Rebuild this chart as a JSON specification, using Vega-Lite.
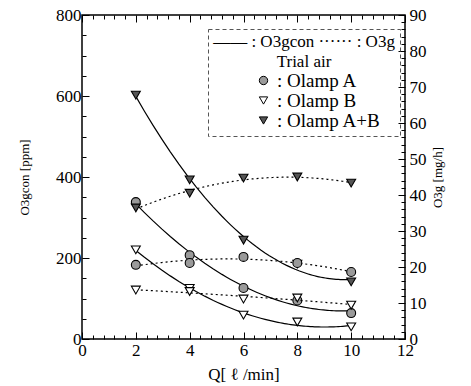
{
  "$schema": "https://vega.github.io/schema/vega-lite/v6.json",
  "width": 323,
  "height": 324,
  "autosize": "none",
  "padding": {"left": 82, "top": 15, "right": 66, "bottom": 47},
  "background": "white",
  "config": {
    "font": "Liberation Serif",
    "view": {"stroke": "black", "strokeWidth": 1.5},
    "axis": {
      "domain": false,
      "grid": false,
      "labelFont": "Liberation Serif",
      "labelFontSize": 17,
      "labelColor": "black",
      "labelOverlap": false,
      "labelFlush": false,
      "tickColor": "black",
      "tickWidth": 1,
      "titleFont": "Liberation Serif",
      "titleFontWeight": "normal",
      "titleColor": "black"
    },
    "legend": {
      "labelFont": "Liberation Serif",
      "titleFont": "Liberation Serif",
      "labelColor": "black",
      "titleColor": "black"
    }
  },
  "data": {
    "values": [
      {"Q": 2, "lamp": "Olamp A", "con": 338, "gen": 20.6},
      {"Q": 4, "lamp": "Olamp A", "con": 207, "gen": 21.1},
      {"Q": 6, "lamp": "Olamp A", "con": 126, "gen": 22.8},
      {"Q": 8, "lamp": "Olamp A", "con": 95, "gen": 21.1},
      {"Q": 10, "lamp": "Olamp A", "con": 64, "gen": 18.6},
      {"Q": 2, "lamp": "Olamp B", "con": 220, "gen": 13.6},
      {"Q": 4, "lamp": "Olamp B", "con": 125, "gen": 13.2},
      {"Q": 6, "lamp": "Olamp B", "con": 59, "gen": 11.1},
      {"Q": 8, "lamp": "Olamp B", "con": 42, "gen": 11.4},
      {"Q": 10, "lamp": "Olamp B", "con": 30, "gen": 9.4},
      {"Q": 2, "lamp": "Olamp A+B", "con": 602, "gen": 36.4},
      {"Q": 4, "lamp": "Olamp A+B", "con": 393, "gen": 40.5},
      {"Q": 6, "lamp": "Olamp A+B", "con": 244, "gen": 44.7},
      {"Q": 8, "lamp": "Olamp A+B", "con": 185, "gen": 45},
      {"Q": 10, "lamp": "Olamp A+B", "con": 141, "gen": 43.3}
    ]
  },
  "layer": [
    {
      "encoding": {
        "x": {
          "field": "Q", "type": "quantitative",
          "scale": {"domain": [0, 12], "nice": false, "zero": false},
          "axis": {
            "orient": "bottom",
            "title": "Q[ ℓ /min]",
            "titleFontSize": 17,
            "titlePadding": 5,
            "labelOverlap": false,
            "labelFlush": false,
            "values": [0,0.4,0.8,1.2,1.6,2,2.4,2.8,3.2,3.6,4,4.4,4.8,5.2,5.6,6,6.4,6.8,7.2,7.6,8,8.4,8.8,9.2,9.6,10,10.4,10.8,11.2,11.6,12],
            "labelExpr": "abs(datum.value/2 - round(datum.value/2)) < 0.001 ? format(datum.value, 'd') : ''",
            "tickSize": {"condition": {"test": "abs(datum.value/2 - round(datum.value/2)) < 0.001", "value": -7}, "value": -4},
            "labelPadding": 10
          }
        },
        "y": {
          "field": "con", "type": "quantitative",
          "scale": {"domain": [0, 800], "nice": false},
          "axis": {
            "orient": "left",
            "title": "O3gcon [ppm]",
            "titleFontSize": 13,
            "titlePadding": 24,
            "labelOverlap": false,
            "values": [0,50,100,150,200,250,300,350,400,450,500,550,600,650,700,750,800],
            "labelExpr": "datum.value % 200 === 0 ? datum.label : ''",
            "tickSize": {"condition": {"test": "datum.value % 200 === 0", "value": -7}, "value": -4},
            "labelPadding": 8
          }
        }
      },
      "layer": [
        {
          "transform": [{"regression": "con", "on": "Q", "groupby": ["lamp"], "method": "poly", "order": 2, "extent": [2, 10]}],
          "mark": {"type": "line", "color": "black", "strokeWidth": 1.2},
          "encoding": {
            "detail": {"field": "lamp", "type": "nominal"}
          }
        },
        {
          "mark": {"type": "point", "stroke": "black", "strokeWidth": 1.1, "size": 80, "opacity": 1},
          "encoding": {
            "shape": {
              "field": "lamp", "type": "nominal",
              "scale": {"domain": ["Olamp A", "Olamp B", "Olamp A+B"], "range": ["circle", "triangle-down", "triangle-down"]},
              "legend": {
                "orient": "none", "legendX": 126, "legendY": 14,
                "title": ["—— : O3gcon ······ : O3g", "Trial air"], "titleFontSize": 17, "titleFontWeight": "normal",
                "titleLineHeight": 20, "titleAnchor": "middle", "titleAlign": "center", "titlePadding": 0,
                "titleLimit": 400,
                "labelExpr": "': ' + datum.label", "labelFontSize": 19,
                "symbolSize": 70, "symbolStrokeColor": "black", "symbolStrokeWidth": 1,
                "symbolOffset": 26, "rowPadding": -1, "padding": 5,
                "strokeColor": "#555",
                "encoding": {
                  "symbols": {"stroke": {"value": "black"}, "strokeWidth": {"value": 1}},
                  "legend": {"strokeDash": {"value": [4, 3]}}
                }
              }
            },
            "fill": {
              "field": "lamp", "type": "nominal",
              "scale": {"domain": ["Olamp A", "Olamp B", "Olamp A+B"], "range": ["#9a9a9a", "white", "#555555"]},
              "legend": {
                "orient": "none", "legendX": 126, "legendY": 14,
                "title": ["—— : O3gcon ······ : O3g", "Trial air"], "titleFontSize": 17, "titleFontWeight": "normal",
                "titleLineHeight": 20, "titleAnchor": "middle", "titleAlign": "center", "titlePadding": 0,
                "titleLimit": 400,
                "labelExpr": "': ' + datum.label", "labelFontSize": 19,
                "symbolSize": 70, "symbolStrokeColor": "black", "symbolStrokeWidth": 1,
                "symbolOffset": 26, "rowPadding": -1, "padding": 5,
                "strokeColor": "#555",
                "encoding": {
                  "symbols": {"stroke": {"value": "black"}, "strokeWidth": {"value": 1}},
                  "legend": {"strokeDash": {"value": [4, 3]}}
                }
              }
            }
          }
        }
      ]
    },
    {
      "encoding": {
        "x": {
          "field": "Q", "type": "quantitative",
          "scale": {"domain": [0, 12], "nice": false, "zero": false},
          "axis": {
            "orient": "top",
            "title": null,
            "labels": false,
            "values": [0,0.4,0.8,1.2,1.6,2,2.4,2.8,3.2,3.6,4,4.4,4.8,5.2,5.6,6,6.4,6.8,7.2,7.6,8,8.4,8.8,9.2,9.6,10,10.4,10.8,11.2,11.6,12],
            "tickSize": {"condition": {"test": "abs(datum.value/2 - round(datum.value/2)) < 0.001", "value": -7}, "value": -4}
          }
        },
        "y": {
          "field": "gen", "type": "quantitative",
          "scale": {"domain": [0, 90], "nice": false},
          "axis": {
            "orient": "right",
            "title": "O3g [mg/h]",
            "titleFontSize": 13,
            "titleAngle": 270,
            "titlePadding": 18,
            "labelOverlap": false,
            "values": [0,2,4,6,8,10,12,14,16,18,20,22,24,26,28,30,32,34,36,38,40,42,44,46,48,50,52,54,56,58,60,62,64,66,68,70,72,74,76,78,80,82,84,86,88,90],
            "labelExpr": "datum.value % 10 === 0 ? datum.label : ''",
            "tickSize": {"condition": {"test": "datum.value % 10 === 0", "value": -7}, "value": -4},
            "labelPadding": 11
          }
        }
      },
      "layer": [
        {
          "transform": [{"regression": "gen", "on": "Q", "groupby": ["lamp"], "method": "poly", "order": 2, "extent": [2, 10]}],
          "mark": {"type": "line", "color": "black", "strokeWidth": 1.2, "strokeDash": [2, 3]},
          "encoding": {
            "detail": {"field": "lamp", "type": "nominal"}
          }
        },
        {
          "mark": {"type": "point", "stroke": "black", "strokeWidth": 1.1, "size": 80, "opacity": 1},
          "encoding": {
            "shape": {"field": "lamp", "type": "nominal"},
            "fill": {"field": "lamp", "type": "nominal"}
          }
        }
      ]
    }
  ],
  "resolve": {
    "scale": {"y": "independent"},
    "axis": {"x": "independent", "y": "independent"}
  }
}
